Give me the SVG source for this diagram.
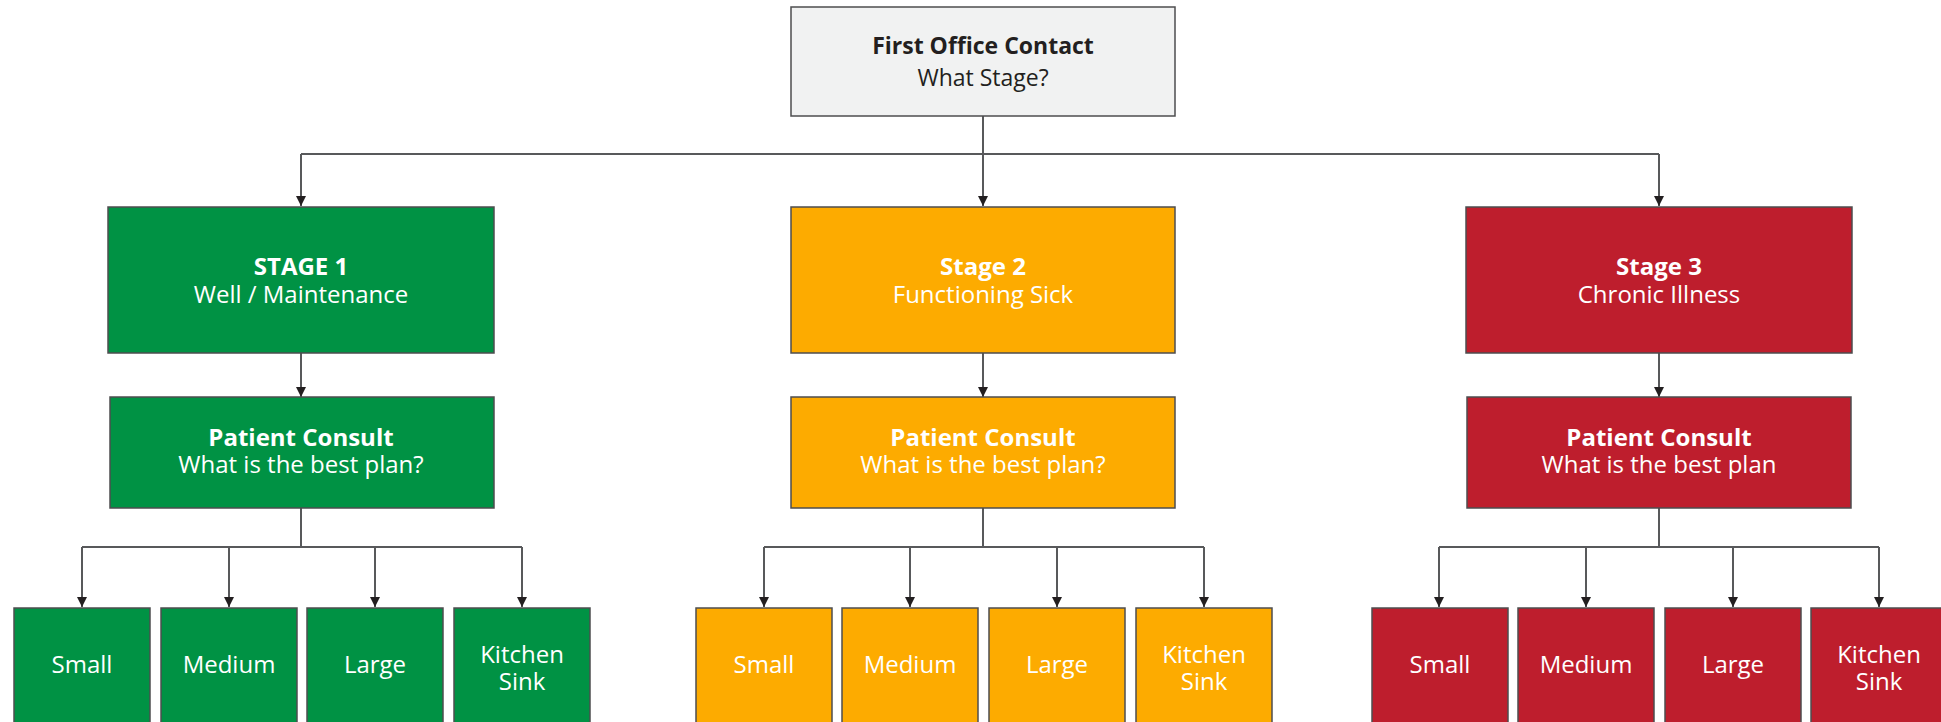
<svg xmlns="http://www.w3.org/2000/svg" width="1941" height="722" viewBox="0 0 1941 722">
<style>
  text { font-family: "Open Sans", "Liberation Sans", sans-serif; text-anchor: middle; }
  .t { font-size: 24px; fill: #ffffff; }
  .b { font-weight: 700; }
  .dk { fill: #231f20; }
  .box { stroke: #4d4d4f; stroke-width: 1.5; }
  .g { fill: #009244; }
  .o { fill: #fdab00; }
  .r { fill: #be1e2d; }
  .w { fill: #f1f2f2; }
  .ln { fill: none; stroke: #58595b; stroke-width: 2; }
</style>
<defs>
  <marker id="ah" viewBox="0 0 10 10" refX="10" refY="5" markerWidth="10" markerHeight="10" markerUnits="userSpaceOnUse" orient="auto">
    <path d="M0,0 L10,5 L0,10 z" fill="#231f20"/>
  </marker>
</defs>
<rect width="1941" height="722" fill="#ffffff"/>

<g id="connectors">
  <path class="ln" d="M983,116 V154"/>
  <path class="ln" d="M301,154 H1659"/>
  <path class="ln" d="M301,154 V206" marker-end="url(#ah)"/>
  <path class="ln" d="M983,154 V206" marker-end="url(#ah)"/>
  <path class="ln" d="M1659,154 V206" marker-end="url(#ah)"/>
  <path class="ln" d="M301,353 V397" marker-end="url(#ah)"/>
  <path class="ln" d="M983,353 V397" marker-end="url(#ah)"/>
  <path class="ln" d="M1659,353 V397" marker-end="url(#ah)"/>
  <path class="ln" d="M301,508 V547 M82,547 H522"/>
  <path class="ln" d="M983,508 V547 M764,547 H1204"/>
  <path class="ln" d="M1659,508 V547 M1439,547 H1879"/>
  <path class="ln" d="M82,547 V607" marker-end="url(#ah)"/>
  <path class="ln" d="M229,547 V607" marker-end="url(#ah)"/>
  <path class="ln" d="M375,547 V607" marker-end="url(#ah)"/>
  <path class="ln" d="M522,547 V607" marker-end="url(#ah)"/>
  <path class="ln" d="M764,547 V607" marker-end="url(#ah)"/>
  <path class="ln" d="M910,547 V607" marker-end="url(#ah)"/>
  <path class="ln" d="M1057,547 V607" marker-end="url(#ah)"/>
  <path class="ln" d="M1204,547 V607" marker-end="url(#ah)"/>
  <path class="ln" d="M1439,547 V607" marker-end="url(#ah)"/>
  <path class="ln" d="M1586,547 V607" marker-end="url(#ah)"/>
  <path class="ln" d="M1733,547 V607" marker-end="url(#ah)"/>
  <path class="ln" d="M1879,547 V607" marker-end="url(#ah)"/>
</g>

<g id="first-contact">
  <rect class="box w" x="791" y="7" width="384" height="109"/>
  <text class="dk" font-size="23"><tspan class="b" x="983" y="54">First Office Contact</tspan><tspan x="983" y="86">What Stage?</tspan></text>
</g>

<g id="stage1">
  <rect class="box g" x="108" y="207" width="386" height="146"/>
  <text class="t"><tspan class="b" x="301" y="275">STAGE 1</tspan><tspan x="301" y="303">Well / Maintenance</tspan></text>
</g>
<g id="stage2">
  <rect class="box o" x="791" y="207" width="384" height="146"/>
  <text class="t"><tspan class="b" x="983" y="275">Stage 2</tspan><tspan x="983" y="303">Functioning Sick</tspan></text>
</g>
<g id="stage3">
  <rect class="box r" x="1466" y="207" width="386" height="146"/>
  <text class="t"><tspan class="b" x="1659" y="275">Stage 3</tspan><tspan x="1659" y="303">Chronic Illness</tspan></text>
</g>

<g id="consult1">
  <rect class="box g" x="110" y="397" width="384" height="111"/>
  <text class="t"><tspan class="b" x="301" y="446">Patient Consult</tspan><tspan x="301" y="473">What is the best plan?</tspan></text>
</g>
<g id="consult2">
  <rect class="box o" x="791" y="397" width="384" height="111"/>
  <text class="t"><tspan class="b" x="983" y="446">Patient Consult</tspan><tspan x="983" y="473">What is the best plan?</tspan></text>
</g>
<g id="consult3">
  <rect class="box r" x="1467" y="397" width="384" height="111"/>
  <text class="t"><tspan class="b" x="1659" y="446">Patient Consult</tspan><tspan x="1659" y="473">What is the best plan</tspan></text>
</g>

<g id="s1-small"><rect class="box g" x="14" y="608" width="136" height="130"/><text class="t" x="82" y="673">Small</text></g>
<g id="s1-medium"><rect class="box g" x="161" y="608" width="136" height="130"/><text class="t" x="229" y="673">Medium</text></g>
<g id="s1-large"><rect class="box g" x="307" y="608" width="136" height="130"/><text class="t" x="375" y="673">Large</text></g>
<g id="s1-kitchen"><rect class="box g" x="454" y="608" width="136" height="130"/><text class="t"><tspan x="522" y="663">Kitchen</tspan><tspan x="522" y="690">Sink</tspan></text></g>

<g id="s2-small"><rect class="box o" x="696" y="608" width="136" height="130"/><text class="t" x="764" y="673">Small</text></g>
<g id="s2-medium"><rect class="box o" x="842" y="608" width="136" height="130"/><text class="t" x="910" y="673">Medium</text></g>
<g id="s2-large"><rect class="box o" x="989" y="608" width="136" height="130"/><text class="t" x="1057" y="673">Large</text></g>
<g id="s2-kitchen"><rect class="box o" x="1136" y="608" width="136" height="130"/><text class="t"><tspan x="1204" y="663">Kitchen</tspan><tspan x="1204" y="690">Sink</tspan></text></g>

<g id="s3-small"><rect class="box r" x="1372" y="608" width="136" height="130"/><text class="t" x="1440" y="673">Small</text></g>
<g id="s3-medium"><rect class="box r" x="1518" y="608" width="136" height="130"/><text class="t" x="1586" y="673">Medium</text></g>
<g id="s3-large"><rect class="box r" x="1665" y="608" width="136" height="130"/><text class="t" x="1733" y="673">Large</text></g>
<g id="s3-kitchen"><rect class="box r" x="1811" y="608" width="136" height="130"/><text class="t"><tspan x="1879" y="663">Kitchen</tspan><tspan x="1879" y="690">Sink</tspan></text></g>
</svg>
